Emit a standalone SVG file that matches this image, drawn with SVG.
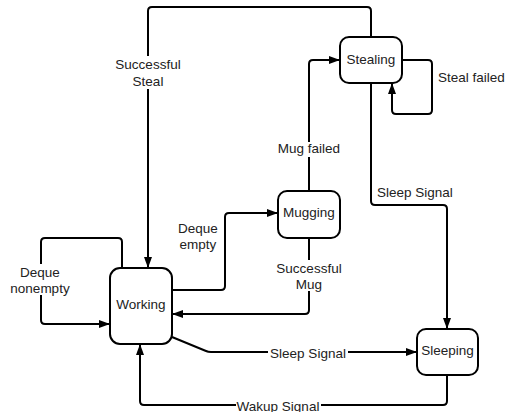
<svg xmlns="http://www.w3.org/2000/svg" width="506" height="412" viewBox="0 0 506 412">
  <style>
    .node rect { fill: #fff; stroke: #000; stroke-width: 2; }
    .node text, .label { font-family: "Liberation Sans", Arial, sans-serif; font-size: 13.5px; fill: #222; }
    .node text { text-anchor: middle; }
    .edge { fill: none; stroke: #000; stroke-width: 2; stroke-linejoin: round; marker-end: url(#arrow); }
    .label { text-anchor: middle; }
    .bg { fill: #fff; stroke: none; }
  </style>
  <defs>
    <marker id="arrow" markerUnits="userSpaceOnUse" markerWidth="12" markerHeight="9" refX="11" refY="4" orient="auto">
      <path d="M0,0 L11,4 L0,8 Z" fill="#000"/>
    </marker>
  </defs>

  <!-- transitions -->
  <g id="connectors">
    <path class="edge" d="M371,37 V11 Q371,7 367,7 H152 Q148,7 148,11 V268"/>
    <path class="edge" d="M309,191 V64 Q309,60 313,60 H340"/>
    <path class="edge" d="M402,60 H428 Q432,60 432,64 V110 Q432,114 428,114 H396 Q392,114 392,110 V83"/>
    <path class="edge" d="M371,83 V201 Q371,205 375,205 H443 Q447,205 447,209 V329"/>
    <path class="edge" d="M172,290 H221 Q225,290 225,286 V217 Q225,213 229,213 H278"/>
    <path class="edge" d="M309,238 V310 Q309,314 305,314 H172"/>
    <path class="edge" d="M122,268 V242 Q122,238 118,238 H45 Q41,238 41,242 V320 Q41,324 45,324 H110"/>
    <path class="edge" d="M172,337 L206,351 Q208,352 211,352 H417"/>
    <path class="edge" d="M447,375 V401 Q447,405 443,405 H144 Q140,405 140,401 V344"/>

    <!-- label backgrounds break the lines they sit on -->
    <rect class="bg" x="116" y="56" width="64" height="33"/>
    <rect class="bg" x="277" y="142" width="64" height="15"/>
    <rect class="bg" x="276" y="260" width="66" height="31"/>
    <rect class="bg" x="10" y="264" width="62" height="31"/>
    <rect class="bg" x="268" y="345" width="80" height="15"/>
    <rect class="bg" x="236" y="398" width="85" height="14"/>

    <text class="label" x="148" y="69">Successful</text>
    <text class="label" x="148" y="86">Steal</text>
    <text class="label" x="309" y="153">Mug failed</text>
    <text class="label" x="438" y="81.5" style="text-anchor:start">Steal failed</text>
    <text class="label" x="377" y="196.5" style="text-anchor:start">Sleep Signal</text>
    <text class="label" x="198" y="232.5">Deque</text>
    <text class="label" x="198" y="248.5">empty</text>
    <text class="label" x="309" y="272.5">Successful</text>
    <text class="label" x="309" y="288.5">Mug</text>
    <text class="label" x="40" y="276.5">Deque</text>
    <text class="label" x="40" y="292.5">nonempty</text>
    <text class="label" x="308" y="357.5">Sleep Signal</text>
    <text class="label" x="278" y="410.5">Wakup Signal</text>
  </g>

  <!-- states -->
  <g id="stealing" class="node">
    <rect x="340" y="37" width="62" height="46" rx="9"/>
    <text x="371" y="64">Stealing</text>
  </g>
  <g id="mugging" class="node">
    <rect x="278" y="191" width="62" height="47" rx="9"/>
    <text x="309" y="217">Mugging</text>
  </g>
  <g id="working" class="node">
    <rect x="110" y="268" width="62" height="76" rx="10"/>
    <text x="141" y="308.5">Working</text>
  </g>
  <g id="sleeping" class="node">
    <rect x="417" y="329" width="61" height="46" rx="9"/>
    <text x="447.5" y="355">Sleeping</text>
  </g>
</svg>
